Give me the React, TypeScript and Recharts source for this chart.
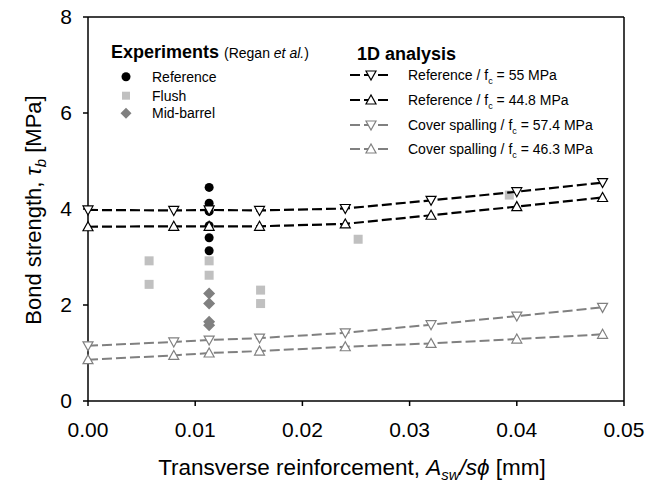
import { ScatterChart, Scatter, XAxis, YAxis, ReferenceLine } from 'recharts'

// 1D analysis: transverse reinforcement (mm) vs bond strength (MPa)
const ANALYSIS_X = [0, 0.008, 0.0113, 0.016, 0.024, 0.032, 0.04, 0.048]
const REF_55 = [3.98, 3.97, 3.98, 3.97, 4.01, 4.18, 4.36, 4.55]
const REF_448 = [3.63, 3.64, 3.64, 3.64, 3.69, 3.87, 4.05, 4.24]
const COVER_574 = [1.15, 1.23, 1.27, 1.31, 1.42, 1.59, 1.77, 1.95]
const COVER_463 = [0.86, 0.95, 1.0, 1.04, 1.13, 1.2, 1.29, 1.39]

// Experiments (Regan et al.)
const EXP_REF_X = [0.0113, 0.0113, 0.0113, 0.0113, 0.0113, 0.0113, 0.0113]
const EXP_REF_Y = [4.45, 4.12, 4.03, 3.95, 3.65, 3.4, 3.13]
const EXP_FLUSH_X = [0.0057, 0.0057, 0.0113, 0.0113, 0.0161, 0.0161, 0.0252, 0.0393]
const EXP_FLUSH_Y = [2.92, 2.43, 2.92, 2.62, 2.31, 2.03, 3.37, 4.29]
const EXP_MID_X = [0.0113, 0.0113, 0.0113, 0.0113]
const EXP_MID_Y = [2.24, 2.03, 1.65, 1.58]

const X_TICKS = [0, 0.01, 0.02, 0.03, 0.04, 0.05]
const Y_TICKS = [0, 2, 4, 6, 8]

const FONT = 'Arial, "Liberation Sans", sans-serif'
const GRAY = '#808080'
const LIGHT = '#c0c0c0'

const zip = (xs: number[], ys: number[]) => xs.map((x, i) => ({ x, y: ys[i] }))

const triDown = (stroke: string) => (p: any) => (
  <path
    d={`M${p.cx - 5},${p.cy - 4}L${p.cx + 5},${p.cy - 4}L${p.cx},${p.cy + 5}Z`}
    fill="#fff"
    stroke={stroke}
    strokeWidth={1.2}
  />
)
const triUp = (stroke: string) => (p: any) => (
  <path
    d={`M${p.cx - 5},${p.cy + 4}L${p.cx + 5},${p.cy + 4}L${p.cx},${p.cy - 5}Z`}
    fill="#fff"
    stroke={stroke}
    strokeWidth={1.2}
  />
)
const dot = (p: any) => <circle cx={p.cx} cy={p.cy} r={4.5} fill="#000" />
const square = (p: any) => <rect x={p.cx - 4.5} y={p.cy - 4.5} width={9} height={9} fill={LIGHT} />
const diamond = (p: any) => (
  <path d={`M${p.cx},${p.cy - 6}L${p.cx + 6},${p.cy}L${p.cx},${p.cy + 6}L${p.cx - 6},${p.cy}Z`} fill={GRAY} />
)

const ANALYSIS = [
  { label: '55', ys: REF_55, color: '#000', width: 2.2, shape: triDown, name: 'Reference' },
  { label: '44.8', ys: REF_448, color: '#000', width: 2.2, shape: triUp, name: 'Reference' },
  { label: '57.4', ys: COVER_574, color: GRAY, width: 2, shape: triDown, name: 'Cover spalling' },
  { label: '46.3', ys: COVER_463, color: GRAY, width: 2, shape: triUp, name: 'Cover spalling' },
]

function Overlay() {
  const rows = [75, 100, 125, 149]
  return (
    <svg width={647} height={488} style={{ position: 'absolute', left: 0, top: 0, pointerEvents: 'none' }} fontFamily={FONT}>
      {/* Experiments legend */}
      <text x={111} y={58} fontSize={18} fontWeight="bold">Experiments</text>
      <text x={224} y={58} fontSize={14}>
        (Regan <tspan fontStyle="italic">et al.</tspan>)
      </text>
      <circle cx={126} cy={76.7} r={4.5} fill="#000" />
      <text x={152} y={81.7} fontSize={14}>Reference</text>
      <rect x={122} y={91.7} width={8} height={8} fill={LIGHT} />
      <text x={152} y={100.7} fontSize={14}>Flush</text>
      <path d="M126,107.8L131.5,113.3L126,118.8L120.5,113.3Z" fill={GRAY} />
      <text x={152} y={118.3} fontSize={14}>Mid-barrel</text>

      {/* 1D analysis legend */}
      <text x={357} y={60} fontSize={18} fontWeight="bold">1D analysis</text>
      {ANALYSIS.map((s, i) => {
        const y = rows[i]
        const down = s.shape === triDown
        return (
          <g key={s.label}>
            <line x1={350} x2={392} y1={y} y2={y} stroke={s.color} strokeWidth={s.width} strokeDasharray="10 4" />
            <path
              d={
                down
                  ? `M366,${y - 4}L376,${y - 4}L371,${y + 5}Z`
                  : `M366,${y + 4}L376,${y + 4}L371,${y - 5}Z`
              }
              fill="#fff"
              stroke={s.color}
              strokeWidth={1.2}
            />
            <text x={408} y={y + 5} fontSize={14}>
              {s.name} / f<tspan dy={4} fontSize={9}>c</tspan>
              <tspan dy={-4}> = {s.label} MPa</tspan>
            </text>
          </g>
        )
      })}

      {/* axis titles */}
      <g transform="translate(33,210) rotate(-90)">
        <text x={0} y={8} fontSize={22} textAnchor="middle">
          Bond strength, <tspan fontStyle="italic">τ</tspan>
          <tspan fontStyle="italic" fontSize={15} dy={5}>b</tspan>
          <tspan dy={-5}> [MPa]</tspan>
        </text>
      </g>
      <text x={352} y={475} fontSize={22.5} textAnchor="middle">
        Transverse reinforcement, <tspan fontStyle="italic">A</tspan>
        <tspan fontStyle="italic" fontSize={15} dy={5}>sw</tspan>
        <tspan dy={-5} fontStyle="italic">/sϕ</tspan> [mm]
      </text>
    </svg>
  )
}

export default function App() {
  return (
    <div style={{ position: 'absolute', left: 0, top: 0, width: 647, height: 488, background: '#fff' }}>
      <ScatterChart width={647} height={488} margin={{ top: 17, right: 23, bottom: 0, left: 0 }}>
        <XAxis
          type="number"
          dataKey="x"
          domain={[0, 0.05]}
          ticks={X_TICKS}
          tickFormatter={(v: number) => v.toFixed(2)}
          height={87}
          tickSize={5}
          tickMargin={16}
          stroke="#000"
          strokeWidth={1.5}
          tick={{ fill: '#000', fontSize: 21, fontFamily: FONT }}
        />
        <YAxis
          type="number"
          dataKey="y"
          domain={[0, 8]}
          ticks={Y_TICKS}
          width={88}
          tickSize={5}
          tickMargin={11}
          stroke="#000"
          strokeWidth={1.5}
          tick={{ fill: '#000', fontSize: 21, fontFamily: FONT }}
        />
        <ReferenceLine y={8} stroke="#000" strokeWidth={1.5} />
        <ReferenceLine x={0.05} stroke="#000" strokeWidth={1.5} />
        <Scatter data={zip(EXP_REF_X, EXP_REF_Y)} shape={dot} isAnimationActive={false} />
        <Scatter data={zip(EXP_FLUSH_X, EXP_FLUSH_Y)} shape={square} isAnimationActive={false} />
        <Scatter data={zip(EXP_MID_X, EXP_MID_Y)} shape={diamond} isAnimationActive={false} />
        {ANALYSIS.map((s) => (
          <Scatter
            key={s.label}
            data={zip(ANALYSIS_X, s.ys)}
            line={{ stroke: s.color, strokeWidth: s.width, strokeDasharray: '10 4' }}
            lineType="joint"
            shape={s.shape(s.color)}
            isAnimationActive={false}
          />
        ))}
      </ScatterChart>
      <Overlay />
    </div>
  )
}
